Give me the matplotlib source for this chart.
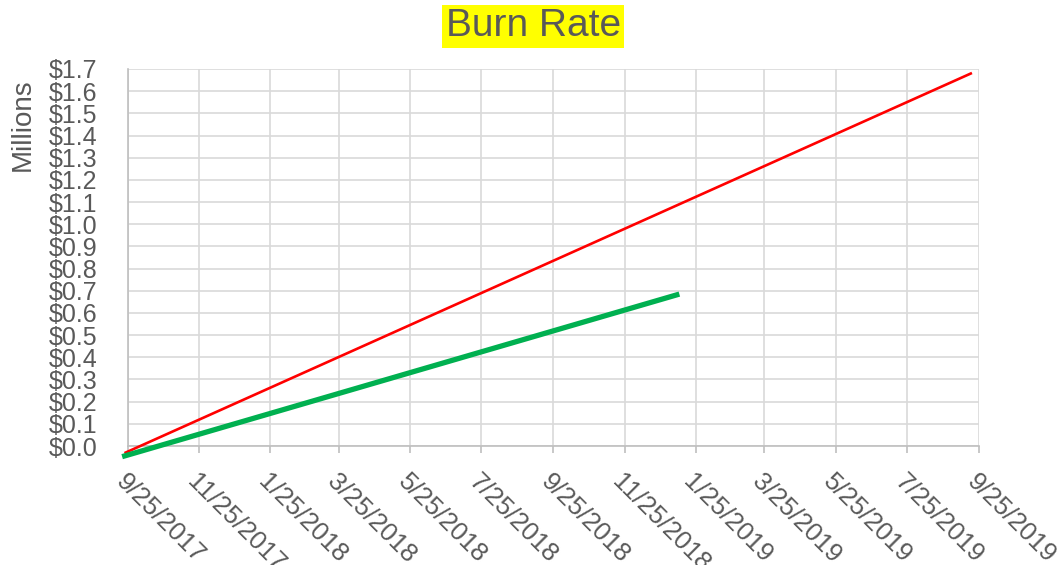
import datetime as dt
import matplotlib
matplotlib.use("Agg")
import matplotlib.pyplot as plt
import matplotlib.transforms as mtransforms

# Series data (values in millions of dollars)
budget_dates = ["2017-09-22", "2019-09-19"]
budget_values = [-0.032, 1.682]
actual_dates = ["2017-09-20", "2019-01-11"]
actual_values = [-0.048, 0.685]

tick_dates = ["2017-09-25", "2017-11-25", "2018-01-25", "2018-03-25",
              "2018-05-25", "2018-07-25", "2018-09-25", "2018-11-25",
              "2019-01-25", "2019-03-25", "2019-05-25", "2019-07-25",
              "2019-09-25"]
y_ticks = [round(0.1 * i, 1) for i in range(18)]

def to_dates(items):
    return [dt.datetime.strptime(s, "%Y-%m-%d") for s in items]

plt.rcParams["font.family"] = ["Liberation Sans", "DejaVu Sans"]
text_color = "#595959"
grid_color = "#D9D9D9"
axis_color = "#BFBFBF"

fig = plt.figure(figsize=(10.62, 5.65), dpi=100)
ax = fig.add_axes([0.1205, 0.2106, 0.8013, 0.6673])

ticks = to_dates(tick_dates)
ax.plot(to_dates(budget_dates), budget_values, color="#FF0000", lw=1.9,
        solid_capstyle="butt", clip_on=False, zorder=3)
ax.plot(to_dates(actual_dates), actual_values, color="#00B050", lw=3.8,
        solid_capstyle="butt", clip_on=False, zorder=4)

ax.set_xlim(ticks[0], ticks[-1])
ax.set_ylim(0, 1.7)
ax.set_xticks(ticks)
ax.set_xticklabels([f"{d.month}/{d.day}/{d.year}" for d in ticks],
                   rotation=-45, ha="left", va="top", rotation_mode="anchor")
ax.set_yticks(y_ticks)
ax.set_yticklabels([f"${v:.1f}" for v in y_ticks])

# nudge the slanted date labels slightly to the right
shift = mtransforms.ScaledTranslation(5 / 100, 0, fig.dpi_scale_trans)
for lbl in ax.get_xticklabels():
    lbl.set_transform(lbl.get_transform() + shift)

ax.grid(True, color=grid_color, lw=1.2)
ax.set_axisbelow(True)
for side in ("top", "right"):
    ax.spines[side].set_visible(False)
for side in ("left", "bottom"):
    ax.spines[side].set_color(axis_color)
    ax.spines[side].set_linewidth(1.2)

ax.tick_params(axis="x", length=5, width=1.2, color=axis_color,
               labelsize=18.5, labelcolor=text_color, pad=12)
ax.tick_params(axis="y", length=0, labelsize=18, labelcolor=text_color, pad=22)

fig.text(0.502, 1 - 26.5 / 565, "Burn Rate", ha="center", va="center",
         fontsize=28, color=text_color,
         bbox=dict(boxstyle="square,pad=0.08", facecolor="#FFFF00", edgecolor="none"))
fig.text(23 / 1062, 1 - 125 / 565, "Millions", rotation=90, ha="center",
         va="center", fontsize=20, color=text_color)

fig.savefig("out.png", dpi=100)
